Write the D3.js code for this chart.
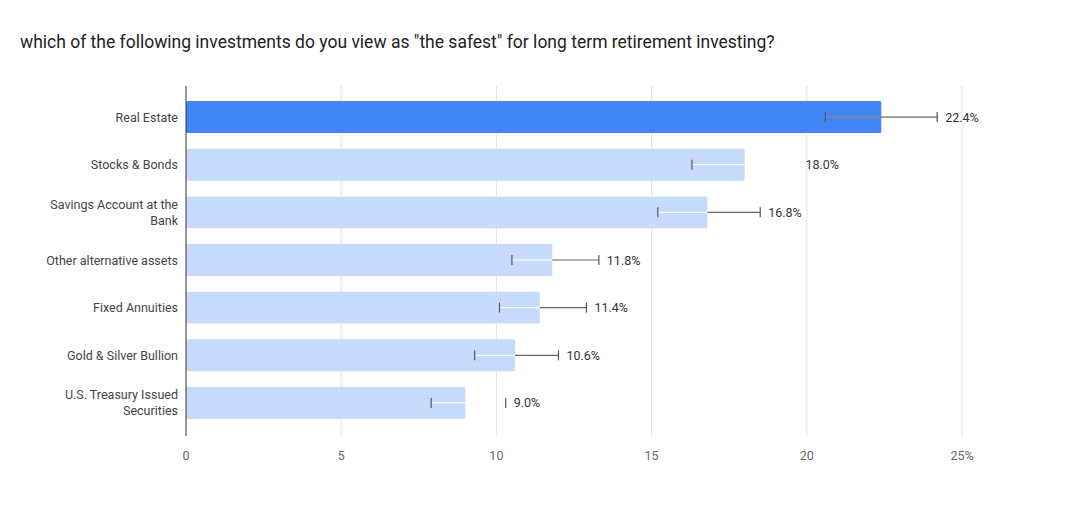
<!DOCTYPE html>
<html><head><meta charset="utf-8">
<script src="https://cdn.jsdelivr.net/npm/d3@7"></script>
<style>body{margin:0;background:#fff;font-family:Roboto,"Noto Sans",sans-serif;}</style>
</head><body>
<svg id="chart" width="1078" height="506"></svg>
<script>
const categories = ["Real Estate", "Stocks & Bonds", "Savings Account at the\nBank", "Other alternative assets", "Fixed Annuities", "Gold & Silver Bullion", "U.S. Treasury Issued\nSecurities"];
const values = [22.4, 18.0, 16.8, 11.8, 11.4, 10.6, 9.0];
const errLow = [20.6, 16.3, 15.2, 10.5, 10.1, 9.3, 7.9];
const errHigh = [24.2, 19.7, 18.5, 13.3, 12.9, 12.0, 10.3];
// google charts dropped some of the outer whisker pieces; keep that look
const outerLine = [true, false, true, true, true, true, false];
const highCap = [true, false, true, true, true, true, true];
const xTicks = [0, 5, 10, 15, 20, 25];

const svg = d3.select("#chart");
svg.append("text").attr("x", 20).attr("y", 48).attr("font-size", 17.5).attr("fill", "#222")
  .text('which of the following investments do you view as "the safest" for long term retirement investing?');

const x = d3.scaleLinear().domain([0, 25]).range([186, 962]);
const y = d3.scaleBand().domain(categories).range([93, 427]).paddingInner(0.33).paddingOuter(0.17);

// grid
svg.append("g").selectAll("line").data(xTicks.slice(1)).join("line")
  .attr("x1", d => x(d)).attr("x2", d => x(d)).attr("y1", 86).attr("y2", 436)
  .attr("stroke", "#e2e2e2");
svg.append("g").selectAll("text").data(xTicks).join("text")
  .attr("x", d => x(d)).attr("y", 460).attr("text-anchor", "middle")
  .attr("font-size", 12.5).attr("fill", "#666").text(d => d === 25 ? "25%" : d);

svg.append("g").selectAll("rect").data(values).join("rect")
  .attr("x", x(0)).attr("y", (d, i) => y(categories[i]))
  .attr("width", d => x(d) - x(0)).attr("height", y.bandwidth())
  .attr("rx", 1.5).attr("fill", (d, i) => i === 0 ? "#4285f4" : "#c6dafc");

svg.append("line").attr("x1", x(0)).attr("x2", x(0)).attr("y1", 86).attr("y2", 436).attr("stroke", "#333");

// error bars
const eb = svg.append("g");
values.forEach((v, i) => {
  const cy = y(categories[i]) + y.bandwidth() / 2;
  eb.append("line").attr("x1", x(errLow[i])).attr("x2", x(v)).attr("y1", cy).attr("y2", cy)
    .attr("stroke", i === 0 ? "#888" : "#fff").attr("stroke-width", 1.2);
  if (outerLine[i]) eb.append("line").attr("x1", x(v)).attr("x2", x(errHigh[i])).attr("y1", cy).attr("y2", cy)
    .attr("stroke", "#666").attr("stroke-width", 1.2);
  eb.append("line").attr("x1", x(errLow[i])).attr("x2", x(errLow[i])).attr("y1", cy - 5).attr("y2", cy + 5)
    .attr("stroke", "#555").attr("stroke-width", 1.2);
  if (highCap[i]) eb.append("line").attr("x1", x(errHigh[i])).attr("x2", x(errHigh[i])).attr("y1", cy - 5).attr("y2", cy + 5)
    .attr("stroke", "#555").attr("stroke-width", 1.2);
  eb.append("text").attr("x", x(errHigh[i]) + 8).attr("y", cy + 4.5)
    .attr("font-size", 12.5).attr("fill", "#333").text(v.toFixed(1) + "%");
});

// category labels
categories.forEach(c => {
  const lines = c.split("\n");
  const cy = y(c) + y.bandwidth() / 2;
  const t = svg.append("text").attr("text-anchor", "end").attr("font-size", 12.5).attr("fill", "#444");
  lines.forEach((l, j) => t.append("tspan").attr("x", 178)
    .attr("y", cy + 4.5 + (j - (lines.length - 1) / 2) * 16).text(l));
});
</script>
</body></html>
